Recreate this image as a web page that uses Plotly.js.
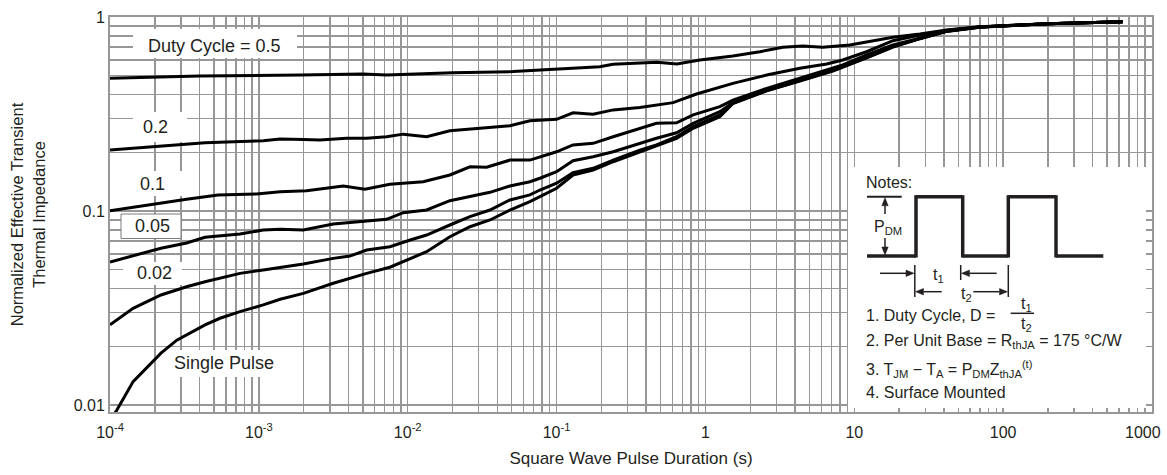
<!DOCTYPE html>
<html><head><meta charset="utf-8">
<script src="https://cdn.plot.ly/plotly-3.0.1.min.js"></script>
<style>html,body{margin:0;padding:0;background:#fff}#chart{width:1167px;height:475px}</style>
</head><body><div id="chart"></div>
<script>
// ---------- data ----------
const seriesNames = ['Single Pulse', '0.02', '0.05', '0.1', '0.2', '0.5'];

const xSingle = [1.0e-4, 1.11e-4, 1.43e-4, 2.2e-4, 2.81e-4, 3.27e-4, 4.35e-4, 5.48e-4, 7.47e-4, 1.07e-3, 1.39e-3, 1.99e-3, 3.16e-3, 5.3e-3, 7.59e-3, 1.34e-2, 1.92e-2, 2.62e-2, 3.57e-2, 4.86e-2, 6.62e-2, 7.73e-2, 0.100, 0.129, 0.176, 0.240, 0.362, 0.469, 0.640, 0.827, 1.25, 1.53, 2.58, 4.31, 7.17, 12.1, 18.2, 27.6, 41.8, 69.7, 200, 635];
const ySingle = [0.0083, 0.0094, 0.0132, 0.0185, 0.0216, 0.0230, 0.0259, 0.0280, 0.0303, 0.0328, 0.0351, 0.0376, 0.0424, 0.0477, 0.0513, 0.0617, 0.0737, 0.0830, 0.0899, 0.1012, 0.1117, 0.1186, 0.131, 0.1534, 0.1627, 0.1795, 0.202, 0.2163, 0.237, 0.267, 0.306, 0.358, 0.416, 0.468, 0.527, 0.615, 0.700, 0.773, 0.843, 0.886, 0.924, 0.946];

const xD002 = [1.0e-4, 1.43e-4, 2.2e-4, 3.27e-4, 4.35e-4, 7.47e-4, 1.07e-3, 1.39e-3, 1.99e-3, 3.16e-3, 4.09e-3, 5.3e-3, 7.59e-3, 1.04e-2, 1.34e-2, 1.92e-2, 2.62e-2, 3.57e-2, 4.86e-2, 6.62e-2, 7.73e-2, 0.100, 0.129, 0.176, 0.240, 0.362, 0.469, 0.640, 0.827, 1.25, 1.53, 2.58, 4.31, 7.17, 12.1, 18.2, 27.6, 41.8, 69.7, 200, 635];
const yD002 = [0.0259, 0.0315, 0.0369, 0.0407, 0.0432, 0.0477, 0.0497, 0.0513, 0.0533, 0.0570, 0.0586, 0.0629, 0.0655, 0.0709, 0.0752, 0.0847, 0.0935, 0.1012, 0.114, 0.121, 0.1283, 0.139, 0.1575, 0.166, 0.183, 0.206, 0.219, 0.2415, 0.272, 0.313, 0.360, 0.418, 0.471, 0.530, 0.618, 0.703, 0.775, 0.845, 0.887, 0.924, 0.946];

const xD005 = [1.0e-4, 2.2e-4, 3.27e-4, 4.35e-4, 7.47e-4, 1.07e-3, 1.39e-3, 1.99e-3, 3.16e-3, 5.3e-3, 7.21e-3, 9.34e-3, 1.34e-2, 1.92e-2, 2.62e-2, 3.57e-2, 4.86e-2, 6.62e-2, 7.73e-2, 0.100, 0.129, 0.176, 0.240, 0.362, 0.469, 0.640, 0.827, 1.25, 1.53, 2.58, 4.31, 7.17, 12.1, 18.2, 27.6, 41.8, 69.7, 200, 635];
const yD005 = [0.0546, 0.0643, 0.0684, 0.0732, 0.0761, 0.0798, 0.0805, 0.0798, 0.0858, 0.0891, 0.0906, 0.098, 0.1012, 0.1130, 0.1186, 0.1248, 0.1346, 0.1416, 0.1475, 0.1595, 0.1817, 0.1905, 0.202, 0.2233, 0.237, 0.253, 0.283, 0.325, 0.3625, 0.420, 0.473, 0.533, 0.620, 0.705, 0.777, 0.847, 0.888, 0.924, 0.946];

const xD01 = [1.0e-4, 2.2e-4, 3.27e-4, 5.33e-4, 9.66e-4, 1.39e-3, 2.09e-3, 3.69e-3, 5.16e-3, 7.59e-3, 1.27e-2, 1.92e-2, 2.62e-2, 3.39e-2, 4.86e-2, 6.62e-2, 0.100, 0.129, 0.176, 0.240, 0.362, 0.469, 0.640, 0.827, 1.25, 1.53, 2.58, 4.31, 7.17, 8.37, 12.1, 18.2, 27.6, 41.8, 69.7, 200, 635];
const yD01 = [0.1003, 0.1104, 0.1149, 0.121, 0.1224, 0.1257, 0.1272, 0.1346, 0.1294, 0.1374, 0.1416, 0.1534, 0.169, 0.168, 0.183, 0.183, 0.202, 0.219, 0.2233, 0.2415, 0.267, 0.283, 0.285, 0.313, 0.345, 0.373, 0.429, 0.483, 0.544, 0.566, 0.637, 0.717, 0.777, 0.847, 0.888, 0.924, 0.946];

const xD02 = [1.0e-4, 2.2e-4, 4.35e-4, 1.07e-3, 1.39e-3, 1.99e-3, 2.57e-3, 3.89e-3, 5.3e-3, 7.21e-3, 9.34e-3, 1.34e-2, 1.92e-2, 3.06e-2, 4.86e-2, 6.62e-2, 0.100, 0.129, 0.176, 0.240, 0.362, 0.607, 0.871, 1.53, 2.58, 4.31, 6.53, 8.37, 12.1, 18.2, 27.6, 41.8, 69.7, 200, 635];
const yD02 = [0.206, 0.2163, 0.225, 0.230, 0.235, 0.234, 0.232, 0.237, 0.237, 0.2415, 0.249, 0.2415, 0.259, 0.267, 0.275, 0.292, 0.297, 0.321, 0.315, 0.332, 0.342, 0.362, 0.401, 0.455, 0.502, 0.544, 0.573, 0.600, 0.662, 0.755, 0.808, 0.854, 0.889, 0.924, 0.946];

const xD05 = [1.0e-4, 4.0e-4, 1.9e-3, 5.0e-3, 7.2e-3, 2.0e-2, 5.1e-2, 0.10, 0.195, 0.239, 0.472, 0.643, 0.916, 1.53, 2.32, 3.31, 4.51, 6.14, 9.33, 18.2, 27.6, 41.8, 69.7, 200, 635];
const yD05 = [0.483, 0.497, 0.502, 0.509, 0.502, 0.516, 0.523, 0.537, 0.554, 0.571, 0.584, 0.573, 0.600, 0.629, 0.662, 0.698, 0.709, 0.698, 0.717, 0.786, 0.817, 0.857, 0.891, 0.924, 0.946];

const xDecades = [1e-4, 1e-3, 1e-2, 1e-1, 1, 10, 100, 1000];
const xDecadeLabels = ['10<sup>-4</sup>', '10<sup>-3</sup>', '10<sup>-2</sup>', '10<sup>-1</sup>', '1', '10', '100', '1000'];
const yDecades = [0.01, 0.1, 1];
const yDecadeLabels = ['0.01', '0.1', '1'];
const minorMultipliers = [2, 3, 4, 5, 6, 7, 8, 9];

const xTitle = 'Square Wave Pulse Duration (s)';
const yTitle = 'Normalized Effective Transient<br>Thermal Impedance';

// ---------- styling ----------
const FONT = 'Liberation Sans, Arial, Helvetica, sans-serif';
const INK = '#231f20';
const GRID = '#979797';

function minorVals(decades) {
  const v = [];
  for (let i = 0; i < decades.length - 1; i++) {
    minorMultipliers.forEach(m => v.push(+(decades[i] * m).toPrecision(3)));
  }
  return v;
}

const xs = [xSingle, xD002, xD005, xD01, xD02, xD05];
const ys = [ySingle, yD002, yD005, yD01, yD02, yD05];
const traces = xs.map((x, i) => ({
  type: 'scatter', mode: 'lines', name: seriesNames[i],
  x: x, y: ys[i],
  line: {color: '#000', width: 3, shape: 'linear'},
  hoverinfo: 'skip', showlegend: false
}));

// pixel helpers for decorative layout (plot area 110..1152 x 17..412)
const PL = 110, PR = 1152, PT = 17, PB = 412;
const fx = p => (p - PL) / (PR - PL);
const fy = p => (PB - p) / (PB - PT);

function whiteBox(x0, y0, x1, y1, border) {
  return {type: 'rect', xref: 'paper', yref: 'paper',
    x0: fx(x0), x1: fx(x1), y0: fy(y1), y1: fy(y0),
    fillcolor: '#ffffff', line: border ? {color: '#7a7a7a', width: 1} : {width: 0},
    layer: 'above'};
}
function seg(x0, y0, x1, y1, w) {
  return {type: 'line', xref: 'paper', yref: 'paper',
    x0: fx(x0), x1: fx(x1), y0: fy(y0), y1: fy(y1),
    line: {color: INK, width: w}, layer: 'above'};
}
// arrow: head at (hx,hy), tail at (tx,ty), pixel units
function arrowShapes(hx, hy, tx, ty) {
  const L = 8, W = 3.2;
  const dx = tx - hx, dy = ty - hy, len = Math.hypot(dx, dy);
  const ux = dx / len, uy = dy / len;
  const bx = hx + ux * L, by = hy + uy * L;
  const p1 = [bx - uy * W, by + ux * W], p2 = [bx + uy * W, by - ux * W];
  const P = (x, y) => fx(x) + ',' + fy(y);
  return [
    seg(tx, ty, bx, by, 1.5),
    {type: 'path', xref: 'paper', yref: 'paper', layer: 'above',
      path: 'M' + P(hx, hy) + ' L' + P(p1[0], p1[1]) + ' L' + P(p2[0], p2[1]) + ' Z',
      fillcolor: INK, line: {color: INK, width: 0.5}}
  ];
}

const shapes = [
  whiteBox(133, 29, 297, 58),
  whiteBox(133, 112, 187, 142),
  whiteBox(133, 171, 185, 196),
  whiteBox(121, 214, 181, 238.5, true),
  whiteBox(123, 262, 182, 285),
  whiteBox(177, 350, 287, 377),
  whiteBox(848, 167, 1146, 408),
  // waveform
  seg(867, 256, 916, 256, 3.5), seg(916, 257.5, 916, 195.2, 3.5), seg(916, 196.7, 962.7, 196.7, 3.5),
  seg(962.7, 195.2, 962.7, 257.5, 3.5), seg(962.7, 256, 1008.3, 256, 3.5), seg(1008.3, 257.5, 1008.3, 195.2, 3.5),
  seg(1008.3, 196.7, 1056, 196.7, 3.5), seg(1056, 195.2, 1056, 257.5, 3.5), seg(1056, 256, 1103.3, 256, 3.5),
  // P_DM reference line
  seg(867, 196.7, 901.7, 196.7, 2),
  // t1 / t2 extension lines
  seg(914.8, 265, 914.8, 297, 1.5), seg(960.7, 265, 960.7, 280, 1.5), seg(1008.3, 265, 1008.3, 297, 1.5),
  // fraction bar
  seg(1010.7, 313.3, 1034, 313.3, 1.5)
].concat(
  arrowShapes(885, 197.8, 885, 214),
  arrowShapes(885, 255, 885, 238),
  arrowShapes(914, 273.3, 880, 273.3),
  arrowShapes(961.5, 273.3, 996.7, 273.3),
  arrowShapes(915.5, 291.7, 941.7, 291.7),
  arrowShapes(1007.5, 291.7, 973.3, 291.7)
);

function txt(text, x, y, size, xanchor) {
  return {xref: 'paper', yref: 'paper', x: fx(x), y: fy(y), text: text,
    showarrow: false, xanchor: xanchor || 'center', yanchor: 'middle',
    font: {family: FONT, size: size, color: INK}};
}

const nAxisLabels = xDecades.length - 1; // last decade label is placed inside the figure edge
const annotations = [
  txt('Duty Cycle = 0.5', 214.5, 45.5, 18),
  txt('0.2', 155.8, 126.7, 18),
  txt('0.1', 152.5, 184.3, 18),
  txt('0.05', 152.8, 226, 18),
  txt('0.02', 154.7, 273.3, 18),
  txt('Single Pulse', 224.2, 363.3, 18),
  txt('Notes:', 864, 182.7, 16, 'left'),
  txt('P<sub>DM</sub>', 887.5, 228, 16),
  txt('t<sub>1</sub>', 938.3, 275, 16),
  txt('t<sub>2</sub>', 966, 294, 16),
  txt('1. Duty Cycle, D =', 864, 315, 16, 'left'),
  txt('t<sub>1</sub>', 1026, 304, 16),
  txt('t<sub>2</sub>', 1026, 324, 16),
  txt('2. Per Unit Base = R<sub>thJA</sub> = 175 °C/W', 864, 341, 16, 'left'),
  txt('3. T<sub>JM</sub> − T<sub>A</sub> = P<sub>DM</sub>Z<sub>thJA</sub><sup>(t)</sup>', 864, 369, 16, 'left'),
  txt('4. Surface Mounted', 864, 392.7, 16, 'left'),
  {xref: 'x', yref: 'paper', x: Math.log10(xDecades[nAxisLabels]), y: fy(432.5),
    text: xDecadeLabels[nAxisLabels], showarrow: false, xanchor: 'right', yanchor: 'middle',
    xshift: 11, font: {family: FONT, size: 16, color: INK}}
];

const axisCommon = {
  type: 'log', showgrid: true, gridcolor: GRID, gridwidth: 1.4,
  showline: true, linecolor: GRID, linewidth: 2, mirror: true,
  ticks: '', zeroline: false, tickmode: 'array',
  tickfont: {family: FONT, size: 16, color: INK}
};

const layout = {
  width: 1167, height: 475,
  margin: {l: 110, r: 15, t: 17, b: 63},
  paper_bgcolor: '#ffffff', plot_bgcolor: '#ffffff',
  font: {family: FONT, color: INK},
  xaxis: Object.assign({}, axisCommon, {
    range: [-4, 3], tickvals: xDecades.slice(0, nAxisLabels), ticktext: xDecadeLabels.slice(0, nAxisLabels),
    ticklabelstandoff: 5,
    minor: {tickmode: 'array', tickvals: minorVals(xDecades), showgrid: true, gridcolor: GRID, gridwidth: 1.4, ticks: ''},
    title: {text: xTitle, font: {family: FONT, size: 17, color: INK}, standoff: 12}
  }),
  yaxis: Object.assign({}, axisCommon, {
    range: [-2.036, 0], tickvals: yDecades, ticktext: yDecadeLabels,
    minor: {tickmode: 'array', tickvals: minorVals(yDecades), showgrid: true, gridcolor: GRID, gridwidth: 1.4, ticks: ''},
    title: {text: yTitle, font: {family: FONT, size: 16.5, color: INK}, standoff: 24}
  }),
  shapes: shapes,
  annotations: annotations,
  showlegend: false
};

Plotly.newPlot('chart', traces, layout, {displayModeBar: false, staticPlot: true});
</script>
</body></html>
